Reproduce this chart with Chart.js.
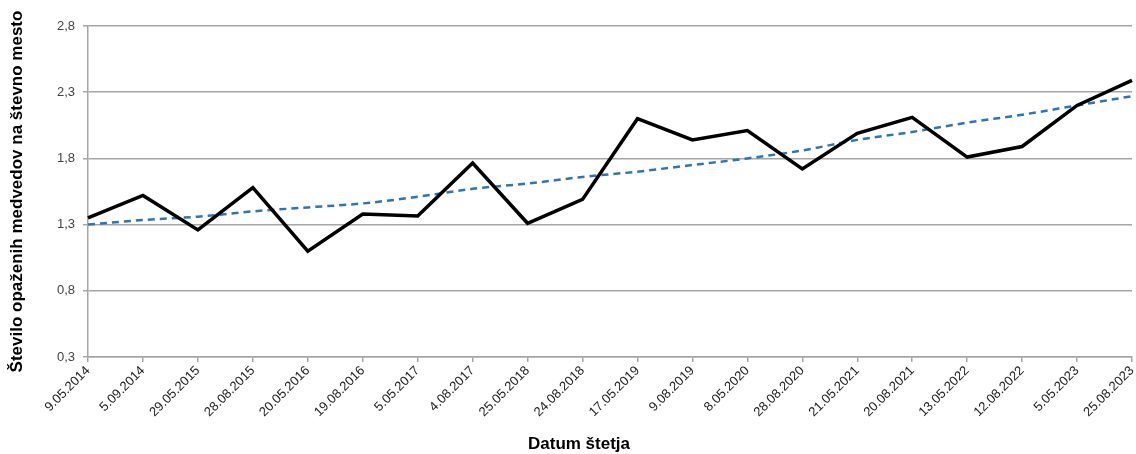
<!DOCTYPE html>
<html>
<head>
<meta charset="utf-8">
<script src="https://cdn.jsdelivr.net/npm/chart.js@4"></script>
<style>
  html, body { margin: 0; padding: 0; background: #fff; }
  #wrap { position: relative; width: 1136px; height: 454px; }
  #xTitle {
    position: absolute; left: 528px; top: 434px;
    font: bold 17px "Liberation Sans", Arial, sans-serif; color: #000;
  }
</style>
</head>
<body>
<div id="wrap">
  <canvas id="bearChart" width="1136" height="454"></canvas>
  <div id="xTitle">Datum štetja</div>
</div>
<script>
// Data
const countDates = ['9.05.2014', '5.09.2014', '29.05.2015', '28.08.2015', '20.05.2016',
  '19.08.2016', '5.05.2017', '4.08.2017', '25.05.2018', '24.08.2018',
  '17.05.2019', '9.08.2019', '8.05.2020', '28.08.2020', '21.05.2021',
  '20.08.2021', '13.05.2022', '12.08.2022', '5.05.2023', '25.08.2023'];
const bearsPerSite = [1.35, 1.52, 1.26, 1.58, 1.10, 1.38, 1.365, 1.765, 1.31, 1.49,
  2.10, 1.94, 2.01, 1.72, 1.99, 2.11, 1.81, 1.89, 2.20, 2.39];
// trend line
const trendValues = [1.30, 1.335, 1.36, 1.40, 1.43, 1.46, 1.51, 1.57, 1.61, 1.66,
  1.70, 1.75, 1.80, 1.86, 1.94, 2.00, 2.07, 2.13, 2.20, 2.27];
const yTicks = [0.3, 0.8, 1.3, 1.8, 2.3, 2.8];

const gridGray = '#a6a6a6';
const tickFont = { family: '"Liberation Sans", Arial, sans-serif', size: 13 };

const ctx = document.getElementById('bearChart').getContext('2d');
new Chart(ctx, {
  type: 'line',
  data: {
    labels: countDates,
    datasets: [{
      label: 'Število',
      data: bearsPerSite,
      borderColor: '#000',
      borderWidth: 3.5,
      pointRadius: 0,
      tension: 0,
      fill: false
    }, {
      label: 'Trend',
      data: trendValues,
      borderColor: '#2e75b6',
      borderWidth: 2.5,
      borderDash: [7, 5],
      pointRadius: 0,
      cubicInterpolationMode: 'monotone',
      fill: false
    }]
  },
  options: {
    responsive: false,
    animation: false,
    layout: { padding: { top: 26, right: 4, left: 0, bottom: 0 } },
    plugins: { legend: { display: false }, tooltip: { enabled: false } },
    scales: {
      x: {
        offset: false,
        grid: { drawOnChartArea: false, drawTicks: true, tickLength: 5, color: gridGray, lineWidth: 1.5 },
        border: { color: gridGray, width: 1.5 },
        ticks: {
          autoSkip: false, minRotation: 45, maxRotation: 45, padding: 1,
          color: '#222', font: tickFont
        },
        afterFit: (scale) => {
          scale.height = 97;
          scale.paddingLeft = 0;
          scale.paddingRight = 0;
        }
      },
      y: {
        min: 0.3, max: 2.8,
        afterBuildTicks: (scale) => { scale.ticks = yTicks.map(v => ({ value: v })); },
        grid: { color: gridGray, lineWidth: 1.5, tickLength: 5 },
        border: { color: gridGray, width: 1.5 },
        ticks: {
          color: '#444', font: tickFont, padding: 8,
          callback: (v) => Number(v).toFixed(1).replace('.', ',')
        },
        title: {
          display: true,
          text: 'Število opaženih medvedov na števno mesto',
          color: '#000',
          font: { family: '"Liberation Sans", Arial, sans-serif', size: 17, weight: 'bold' },
          padding: { top: 7, bottom: 0 }
        },
        afterFit: (scale) => { scale.width = 88; }
      }
    }
  }
});
</script>
</body>
</html>
